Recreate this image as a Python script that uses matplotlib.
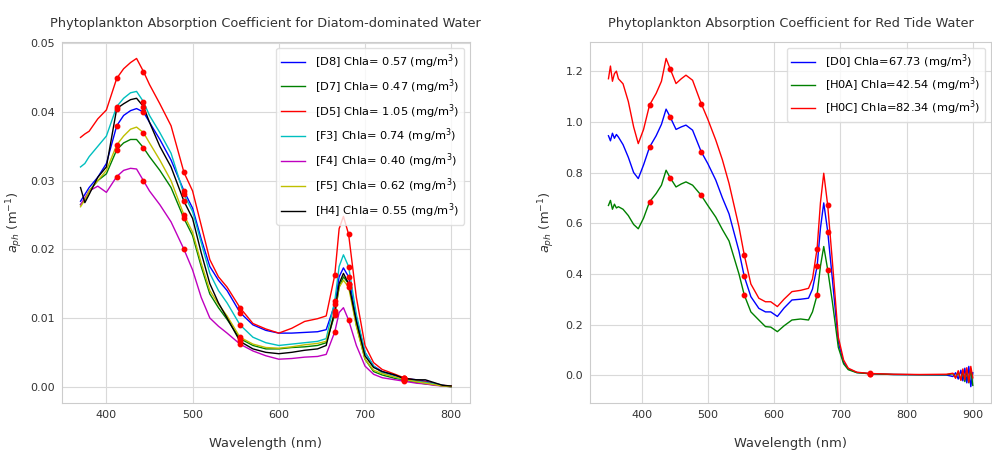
import numpy as np
import matplotlib
matplotlib.use("Agg")
import matplotlib.pyplot as plt

# ---- diatom-dominated water ----
wl_left = [370, 375, 380, 390, 400, 412, 420, 428, 435, 443, 450, 462, 475, 490, 500,
           510, 520, 530, 540, 555, 570, 585, 600, 615, 630, 645, 655, 665, 670, 675,
           681, 690, 700, 710, 720, 735, 745, 760, 770, 780, 790, 800]

D8 = [0.0270, 0.0280, 0.0290, 0.0305, 0.0325, 0.0380, 0.0395, 0.0402, 0.0405, 0.0400,
      0.0385, 0.0360, 0.0330, 0.0285, 0.0260, 0.0215, 0.0175, 0.0155, 0.0140, 0.0108,
      0.0090, 0.0082, 0.0078, 0.0078, 0.0079, 0.0080, 0.0083, 0.0120, 0.0160, 0.0173,
      0.0160, 0.0100, 0.0050, 0.0030, 0.0022, 0.0016, 0.0012, 0.0010, 0.0008, 0.0005,
      0.0002, 0.0000]
D7 = [0.0265, 0.0272, 0.0285, 0.0300, 0.0310, 0.0345, 0.0355, 0.0360, 0.0360, 0.0348,
      0.0335, 0.0315, 0.0290, 0.0245, 0.0220, 0.0175, 0.0135, 0.0115, 0.0098, 0.0070,
      0.0060, 0.0055, 0.0055, 0.0057, 0.0058, 0.0060, 0.0064, 0.0105, 0.0145, 0.0160,
      0.0150, 0.0090, 0.0040, 0.0022, 0.0017, 0.0012, 0.0010, 0.0006, 0.0004, 0.0003,
      0.0001, 0.0000]
D5 = [0.0363, 0.0368, 0.0372, 0.0390, 0.0403, 0.0449, 0.0463, 0.0472, 0.0478, 0.0459,
      0.0440, 0.0412, 0.0380, 0.0312, 0.0285, 0.0235, 0.0185, 0.0160, 0.0145, 0.0115,
      0.0092, 0.0084, 0.0078, 0.0085, 0.0095, 0.0099, 0.0103, 0.0163, 0.0230, 0.0248,
      0.0222, 0.0130, 0.0060, 0.0035, 0.0025, 0.0018, 0.0013, 0.0009, 0.0007, 0.0004,
      0.0002, 0.0001]
F3 = [0.0320, 0.0325, 0.0335, 0.0350, 0.0365, 0.0408, 0.0420, 0.0428, 0.0430, 0.0415,
      0.0395, 0.0370, 0.0340, 0.0280, 0.0255, 0.0210, 0.0165, 0.0140, 0.0122, 0.0090,
      0.0072, 0.0064, 0.0060, 0.0062, 0.0064, 0.0066, 0.0070, 0.0125, 0.0175, 0.0192,
      0.0175, 0.0105, 0.0050, 0.0030, 0.0020, 0.0014, 0.0010, 0.0008, 0.0006, 0.0004,
      0.0002, 0.0000]
F4 = [0.0265, 0.0275, 0.0285, 0.0292, 0.0283, 0.0306, 0.0315, 0.0318, 0.0317, 0.0300,
      0.0285, 0.0265, 0.0240, 0.0200, 0.0170, 0.0130, 0.0100, 0.0088, 0.0078, 0.0062,
      0.0052, 0.0045, 0.0040, 0.0041, 0.0043, 0.0044, 0.0047, 0.0080, 0.0108, 0.0115,
      0.0097, 0.0060, 0.0030, 0.0018, 0.0013, 0.0010, 0.0008, 0.0005, 0.0004, 0.0002,
      0.0001, 0.0000]
F5 = [0.0262, 0.0272, 0.0285, 0.0300, 0.0315, 0.0352, 0.0365, 0.0375, 0.0378, 0.0370,
      0.0355, 0.0330, 0.0300, 0.0250, 0.0225, 0.0180, 0.0140, 0.0120, 0.0103, 0.0072,
      0.0062, 0.0057, 0.0056, 0.0058, 0.0061, 0.0063, 0.0066, 0.0108, 0.0145, 0.0155,
      0.0145, 0.0088, 0.0040, 0.0024, 0.0019, 0.0014, 0.0011, 0.0007, 0.0005, 0.0003,
      0.0001, 0.0000]
H4 = [0.0290, 0.0268, 0.0280, 0.0305, 0.0320, 0.0405, 0.0412, 0.0418, 0.0420, 0.0408,
      0.0385, 0.0350, 0.0320, 0.0270, 0.0245, 0.0195, 0.0150, 0.0122, 0.0100, 0.0066,
      0.0055, 0.0050, 0.0048, 0.0050, 0.0053, 0.0055, 0.0060, 0.0110, 0.0150, 0.0165,
      0.0150, 0.0095, 0.0045, 0.0028, 0.0022, 0.0017, 0.0012, 0.0010, 0.0010, 0.0006,
      0.0002, 0.0001]

left_series = [D8, D7, D5, F3, F4, F5, H4]
left_labels = ['[D8] Chla= 0.57 (mg/m$^3$)', '[D7] Chla= 0.47 (mg/m$^3$)',
               '[D5] Chla= 1.05 (mg/m$^3$)', '[F3] Chla= 0.74 (mg/m$^3$)',
               '[F4] Chla= 0.40 (mg/m$^3$)', '[F5] Chla= 0.62 (mg/m$^3$)',
               '[H4] Chla= 0.55 (mg/m$^3$)']
left_colors = ['b', 'g', 'r', 'c', 'm', 'y', 'k']

# ---- red tide water ----
wl_right = [350, 353, 356, 359, 362, 365, 372, 380, 388, 395, 403, 412, 422, 430, 437,
            443, 452, 460, 467, 477, 490, 500, 512, 522, 532, 547, 555, 565, 577, 587,
            595, 605, 615, 627, 640, 652, 658, 665, 670, 675, 681, 688, 697, 705, 712,
            725, 745, 780, 820, 860, 870, 874, 878, 882, 885, 888, 891, 894, 897, 900]

D0 = [0.945, 0.925, 0.955, 0.935, 0.950, 0.940, 0.910, 0.860, 0.800, 0.776, 0.830, 0.900,
      0.945, 0.990, 1.050, 1.020, 0.970, 0.980, 0.987, 0.967, 0.882, 0.835, 0.770, 0.700,
      0.637, 0.490, 0.390, 0.310, 0.264, 0.250, 0.250, 0.232, 0.265, 0.297, 0.300, 0.304,
      0.340, 0.430, 0.580, 0.680, 0.567, 0.380, 0.130, 0.050, 0.025, 0.011, 0.006, 0.003,
      0.002, 0.001, -0.005, 0.010, -0.015, 0.020, -0.022, 0.028, -0.030, 0.035, -0.045, 0.010]
H0A = [0.670, 0.690, 0.655, 0.675, 0.660, 0.665, 0.655, 0.630, 0.595, 0.578, 0.620, 0.684,
       0.717, 0.750, 0.809, 0.780, 0.743, 0.755, 0.763, 0.750, 0.710, 0.670, 0.624, 0.575,
       0.530, 0.400, 0.317, 0.250, 0.218, 0.192, 0.190, 0.172, 0.195, 0.218, 0.222, 0.218,
       0.250, 0.317, 0.430, 0.508, 0.416, 0.290, 0.110, 0.045, 0.022, 0.010, 0.006, 0.003,
       0.002, 0.002, 0.006, -0.008, 0.012, -0.018, 0.015, -0.025, 0.020, -0.030, 0.025, -0.040]
H0C = [1.170, 1.220, 1.160, 1.190, 1.200, 1.170, 1.150, 1.080, 0.980, 0.914, 0.970, 1.066,
       1.112, 1.160, 1.250, 1.210, 1.151, 1.170, 1.184, 1.164, 1.072, 1.010, 0.928, 0.850,
       0.757, 0.586, 0.475, 0.360, 0.304, 0.290, 0.290, 0.271, 0.300, 0.330, 0.335, 0.343,
       0.380, 0.500, 0.680, 0.797, 0.670, 0.450, 0.150, 0.060, 0.028, 0.012, 0.007, 0.004,
       0.003, 0.004, 0.008, -0.012, 0.018, -0.020, 0.025, -0.018, 0.030, -0.028, 0.035, -0.010]

right_series = [D0, H0A, H0C]
right_labels = ['[D0] Chla=67.73 (mg/m$^3$)', '[H0A] Chla=42.54 (mg/m$^3$)',
                '[H0C] Chla=82.34 (mg/m$^3$)']
right_colors = ['b', 'g', 'r']

# satellite bands marked with red dots
bands = [412, 443, 490, 555, 665, 681, 745]


def style_axes(ax):
    ax.grid(True, color='0.85', linewidth=0.8)
    ax.set_axisbelow(True)
    for s in ax.spines.values():
        s.set_color('0.8')
    ax.tick_params(length=0, labelsize=8, colors='0.2', pad=5)


def draw_panel(ax, wl, series, labels, colors, title, spacing, ylpad):
    wl = np.array(wl)
    idx = [list(wl).index(b) for b in bands]
    for vals, lab, col in zip(series, labels, colors):
        vals = np.array(vals)
        ax.plot(wl, vals, color=col, linewidth=1.0, label=lab)
        ax.plot(wl[idx], vals[idx], 'o', color='r', markersize=3.2, zorder=3)
    ax.set_title(title, fontsize=9.3, color='0.2', pad=11)
    ax.set_xlabel('Wavelength (nm)', fontsize=9.4, color='0.2', labelpad=12)
    ax.set_ylabel('$a_{ph}$ (m$^{-1}$)', fontsize=9.4, color='0.2', labelpad=ylpad)
    style_axes(ax)
    leg = ax.legend(loc='upper right', fontsize=8.2, frameon=True,
                    handlelength=2.1, handletextpad=0.9, labelspacing=spacing)
    leg.get_frame().set_edgecolor('0.85')


fig = plt.figure(figsize=(9.92, 4.57), dpi=100)
ax1 = fig.add_axes([0.0625, 0.118, 0.411, 0.790])
ax2 = fig.add_axes([0.595, 0.118, 0.404, 0.790])

draw_panel(ax1, wl_left, left_series, left_labels, left_colors,
           'Phytoplankton Absorption Coefficient for Diatom-dominated Water', 0.55, 4)
ax1.set_xticks([400, 500, 600, 700, 800])
ax1.set_yticks([0.00, 0.01, 0.02, 0.03, 0.04, 0.05])

draw_panel(ax2, wl_right, right_series, right_labels, right_colors,
           'Phytoplankton Absorption Coefficient for Red Tide Water', 0.4, 6)
ax2.set_xticks([400, 500, 600, 700, 800, 900])

fig.savefig('out.png', dpi=100)
